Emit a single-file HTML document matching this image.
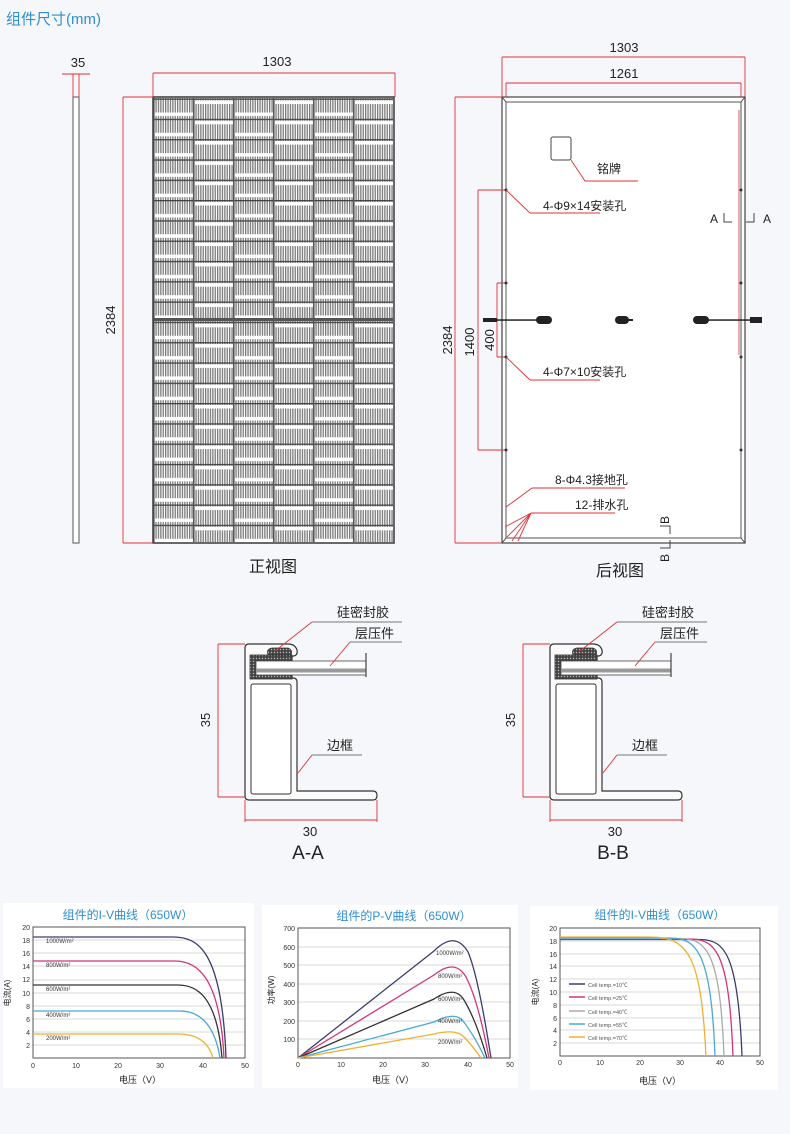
<!DOCTYPE html>
<html><head><meta charset="utf-8"><style>
html,body{margin:0;padding:0;background:#f5f7fa;}
svg{display:block;font-family:"Liberation Sans","Noto Sans CJK SC",sans-serif;}
</style></head><body>
<svg width="790" height="1134" viewBox="0 0 790 1134" xmlns="http://www.w3.org/2000/svg">
<defs>
<pattern id="st" width="2.4" height="20" patternUnits="userSpaceOnUse"><rect width="2.4" height="20" fill="#fff"/><rect width="1.3" height="20" fill="#7a7a7a"/></pattern>
<pattern id="cA" x="153" y="98.5" width="40" height="20.3" patternUnits="userSpaceOnUse">
<rect width="40" height="20.3" fill="url(#st)"/><rect x="0" y="14" width="40" height="3.5" fill="#fff"/>
<rect x="0" y="0" width="40" height="1.3" fill="#444"/><rect x="0" y="0" width="1.6" height="20.3" fill="#555"/></pattern>
<pattern id="cB" x="153" y="98.5" width="40" height="20.3" patternUnits="userSpaceOnUse">
<rect width="40" height="20.3" fill="url(#st)"/><rect x="0" y="2" width="40" height="3.5" fill="#fff"/>
<rect x="0" y="0" width="40" height="1.3" fill="#444"/><rect x="0" y="0" width="1.6" height="20.3" fill="#555"/></pattern>
<pattern id="hatch" width="3" height="3" patternUnits="userSpaceOnUse"><rect width="3" height="3" fill="#444"/><circle cx="1.5" cy="1.5" r="0.7" fill="#bbb"/></pattern>
<g id="prof">
<path d="M249,800 L373,800 Q377,800 377,795.5 Q377,791 373,791 L297,791 L297,682 Q297,678 293,678 L292,678 L292,656 L294,656 Q298,655 297,650 Q295,644 288,644 L249,644 Q245,644 245,648 L245,796 Q245,800 249,800 Z" fill="#fafafa" stroke="#333" stroke-width="1.2"/>
<rect x="251" y="684" width="40" height="110" rx="2" fill="#fff" stroke="#333" stroke-width="1"/>
<rect x="250" y="655" width="42" height="24" fill="url(#hatch)" stroke="#333" stroke-width="0.8"/>
<path d="M268,655 Q266,649 272,648 L288,648 Q293,650 291,655 Z" fill="url(#hatch)" stroke="#333" stroke-width="0.8"/>
<rect x="256" y="661" width="110" height="14" fill="#fff" stroke="#444" stroke-width="0.8"/>
<rect x="256" y="668.5" width="110" height="4" fill="#999"/>
<line x1="366" y1="653" x2="366" y2="677" stroke="#444" stroke-width="1.2"/>
<path d="M218,644 L245,644 M218,797 L245,797 M218,644 L218,797 M245,800 L245,822 M377,800 L377,822 M245,820 L377,820" stroke="#e0303a" stroke-width="0.9" fill="none"/>
<path d="M275,651 L312,622" stroke="#e0303a" stroke-width="0.9"/>
<path d="M312,622 L402,622 M350,642 L402,642 M312,755 L362,755" stroke="#777" stroke-width="0.9"/>
<path d="M330,666 L350,642 M298,773 L312,755" stroke="#e0303a" stroke-width="0.9"/>
<text x="337" y="617" font-size="13" fill="#222">硅密封胶</text>
<text x="355" y="638" font-size="13" fill="#222">层压件</text>
<text x="327" y="750" font-size="13" fill="#222">边框</text>
<text transform="translate(210,720) rotate(-90)" text-anchor="middle" font-size="13" fill="#222">35</text>
<text x="310" y="836" text-anchor="middle" font-size="13" fill="#222">30</text>
</g>
</defs>

<text x="6" y="24" font-size="15" fill="#2f8fd0">组件尺寸(mm)</text>

<!-- side view -->
<rect x="73" y="97" width="6" height="446" fill="#fff" stroke="#555" stroke-width="1"/>
<path d="M62,74 L90,74 M73,74 L73,97 M79,74 L79,97" stroke="#e0303a" stroke-width="0.9"/>
<text x="78" y="67" text-anchor="middle" font-size="13" fill="#222">35</text>

<!-- front view -->
<rect x="153" y="98" width="40" height="444" fill="url(#cA)"/>
<rect x="193" y="98" width="40" height="444" fill="url(#cB)"/>
<rect x="233" y="98" width="40" height="444" fill="url(#cA)"/>
<rect x="273" y="98" width="40" height="444" fill="url(#cB)"/>
<rect x="313" y="98" width="40" height="444" fill="url(#cA)"/>
<rect x="353" y="98" width="40" height="444" fill="url(#cB)"/>
<rect x="153" y="318" width="240" height="3" fill="#555"/>
<rect x="153" y="97" width="241" height="446" fill="none" stroke="#444" stroke-width="1.6"/>
<path d="M153,73 L395,73 M153,73 L153,97 M395,73 L395,97 M123,97 L153,97 M123,543 L153,543 M123,97 L123,543" stroke="#e0303a" stroke-width="0.9"/>
<text x="277" y="66" text-anchor="middle" font-size="13" fill="#222">1303</text>
<text transform="translate(115,320) rotate(-90)" text-anchor="middle" font-size="13" fill="#222">2384</text>
<text x="273" y="572" text-anchor="middle" font-size="16" fill="#222">正视图</text>

<!-- back view -->
<rect x="502" y="97" width="243" height="446" fill="#fff" stroke="#444" stroke-width="1.2"/>
<rect x="506" y="102" width="235" height="436" fill="none" stroke="#555" stroke-width="1"/>
<path d="M502,97 L506,102 M745,97 L741,102 M502,543 L506,538 M745,543 L741,538" stroke="#444" stroke-width="1"/>
<rect x="551" y="137" width="20" height="23" rx="2" fill="#fff" stroke="#444" stroke-width="1"/>
<path d="M502,57 L745,57 M502,57 L502,97 M745,57 L745,97 M506,83 L741,83 M506,83 L506,97 M741,83 L741,97 M455,97 L502,97 M455,543 L502,543 M455,97 L455,543 M478,190 L506,190 M478,450 L506,450 M478,190 L478,450 M497,283 L506,283 M497,357 L506,357 M497,283 L497,357" stroke="#e0303a" stroke-width="0.9"/>
<path d="M739,110 L739,355" stroke="#e0303a" stroke-width="0.8"/>
<text x="624" y="52" text-anchor="middle" font-size="13" fill="#222">1303</text>
<text x="624" y="78" text-anchor="middle" font-size="13" fill="#222">1261</text>
<text transform="translate(452,340) rotate(-90)" text-anchor="middle" font-size="13" fill="#222">2384</text>
<text transform="translate(474,342) rotate(-90)" text-anchor="middle" font-size="13" fill="#222">1400</text>
<text transform="translate(494,340) rotate(-90)" text-anchor="middle" font-size="13" fill="#222">400</text>
<!-- connectors -->
<g fill="#222">
<rect x="483" y="318" width="14" height="4"/><rect x="497" y="319.3" width="40" height="1.5"/><rect x="536" y="316" width="16" height="8" rx="4"/>
<rect x="615" y="316" width="14" height="8" rx="4"/><rect x="628" y="319" width="5" height="2"/>
<rect x="693" y="316" width="16" height="8" rx="4"/><rect x="708" y="319.3" width="44" height="1.5"/><rect x="750" y="317" width="12" height="6"/>
</g>
<g fill="#333"><circle cx="506" cy="190" r="1.5"/><circle cx="506" cy="283" r="1.5"/><circle cx="506" cy="357" r="1.5"/><circle cx="506" cy="450" r="1.5"/><circle cx="741" cy="190" r="1.5"/><circle cx="741" cy="283" r="1.5"/><circle cx="741" cy="357" r="1.5"/><circle cx="741" cy="450" r="1.5"/></g>
<path d="M571,160 L585,181 L638,181 M506,190 L530,213 M506,357 L530,380 M506,507 L532,488 M505,527 L531,513 M507,537 L531,513 M512,541 L531,513 M518,541 L531,513" stroke="#e0303a" stroke-width="0.9" fill="none"/>
<path d="M530,213 L600,213 M530,380 L600,380 M532,488 L625,488 M531,513 L615,513" stroke="#e0303a" stroke-width="0.9"/>
<text x="597" y="173" font-size="12" fill="#222">铭牌</text>
<text x="543" y="210" font-size="12" fill="#222">4-Φ9×14安装孔</text>
<text x="543" y="376" font-size="12" fill="#222">4-Φ7×10安装孔</text>
<text x="555" y="484" font-size="12" fill="#222">8-Φ4.3接地孔</text>
<text x="575" y="509" font-size="12" fill="#222">12-排水孔</text>
<text x="710" y="223" font-size="12" fill="#222">A</text>
<path d="M724,213 L724,222 L732,222 M754,213 L754,222 L746,222" stroke="#444" stroke-width="1" fill="none"/>
<text x="763" y="223" font-size="12" fill="#222">A</text>
<text transform="translate(669,520) rotate(-90)" text-anchor="middle" font-size="12" fill="#222">B</text>
<path d="M660,526 L670,526 L670,534 M660,548 L670,548 L670,540" stroke="#444" stroke-width="1" fill="none"/>
<text transform="translate(669,558) rotate(-90)" text-anchor="middle" font-size="12" fill="#222">B</text>
<text x="620" y="576" text-anchor="middle" font-size="16" fill="#222">后视图</text>

<!-- sections -->
<use href="#prof"/>
<text x="308" y="859" text-anchor="middle" font-size="19" fill="#222">A-A</text>
<use href="#prof" transform="translate(305,0)"/>
<text x="613" y="859" text-anchor="middle" font-size="19" fill="#222">B-B</text>

<!-- chart 1 -->
<rect x="3" y="903" width="251" height="185" fill="#fff"/>
<text x="128" y="919" text-anchor="middle" font-size="12" fill="#2f8fd0">组件的I-V曲线（650W）</text>
<g stroke="#ccc" stroke-width="0.7">
<line x1="33" x2="245" y1="1045" y2="1045"/><line x1="33" x2="245" y1="1032" y2="1032"/><line x1="33" x2="245" y1="1019" y2="1019"/><line x1="33" x2="245" y1="1006" y2="1006"/><line x1="33" x2="245" y1="993" y2="993"/><line x1="33" x2="245" y1="980" y2="980"/><line x1="33" x2="245" y1="966" y2="966"/><line x1="33" x2="245" y1="953" y2="953"/><line x1="33" x2="245" y1="940" y2="940"/></g>
<rect x="33" y="927" width="212" height="131" fill="none" stroke="#555" stroke-width="1"/>
<g fill="none" stroke-width="1.3">
<path d="M33,937 L173,937 C198,937 222,950 226,1058" stroke="#3a3d6e"/>
<path d="M33,961 L175,961 C196,961 220,975 224,1058" stroke="#d0357a"/>
<path d="M33,985 L178,985 C196,985 217,995 222,1058" stroke="#333"/>
<path d="M33,1011 L180,1011 C196,1011 214,1020 220,1058" stroke="#4aa8d8"/>
<path d="M33,1034 L178,1034 C194,1034 208,1040 213,1058" stroke="#f0b030"/></g>
<g font-size="6" fill="#333"><text x="46" y="943">1000W/m²</text><text x="46" y="967">800W/m²</text><text x="46" y="991">600W/m²</text><text x="46" y="1017">400W/m²</text><text x="46" y="1040">200W/m²</text></g>
<g font-size="7" fill="#333" text-anchor="end"><text x="30" y="930">20</text><text x="30" y="943">18</text><text x="30" y="956">16</text><text x="30" y="969">14</text><text x="30" y="982">12</text><text x="30" y="996">10</text><text x="30" y="1009">8</text><text x="30" y="1022">6</text><text x="30" y="1035">4</text><text x="30" y="1048">2</text></g>
<g font-size="7" fill="#333" text-anchor="middle"><text x="33" y="1068">0</text><text x="76" y="1068">10</text><text x="118" y="1068">20</text><text x="160" y="1068">30</text><text x="203" y="1068">40</text><text x="245" y="1068">50</text></g>
<text x="140" y="1083" text-anchor="middle" font-size="9" fill="#222">电压（V）</text>
<text transform="translate(10,993) rotate(-90)" text-anchor="middle" font-size="8" fill="#222">电流(A)</text>

<!-- chart 2 -->
<rect x="262" y="905" width="256" height="183" fill="#fff"/>
<text x="404" y="920" text-anchor="middle" font-size="12" fill="#2f8fd0">组件的P-V曲线（650W）</text>
<g stroke="#ccc" stroke-width="0.7">
<line x1="298" x2="510" y1="1039" y2="1039"/><line x1="298" x2="510" y1="1021" y2="1021"/><line x1="298" x2="510" y1="1002" y2="1002"/><line x1="298" x2="510" y1="984" y2="984"/><line x1="298" x2="510" y1="965" y2="965"/><line x1="298" x2="510" y1="947" y2="947"/></g>
<rect x="298" y="928" width="212" height="130" fill="none" stroke="#555" stroke-width="1"/>
<g fill="none" stroke-width="1.3">
<path d="M298,1058 L434,951 Q455,930 468,952 Q478,975 491,1058" stroke="#3a3d6e"/>
<path d="M298,1058 L434,975 Q455,958 466,977 Q478,1000 489,1058" stroke="#d0357a"/>
<path d="M298,1058 L434,999 Q455,985 464,1000 Q476,1020 487,1058" stroke="#333"/>
<path d="M298,1058 L434,1022 Q455,1011 463,1021 Q474,1035 485,1058" stroke="#4aa8d8"/>
<path d="M298,1058 L434,1034 Q455,1029 463,1036 Q472,1045 481,1058" stroke="#f0b030"/></g>
<g font-size="6" fill="#333"><text x="436" y="955">1000W/m²</text><text x="438" y="978">800W/m²</text><text x="438" y="1001">600W/m²</text><text x="438" y="1023">400W/m²</text><text x="438" y="1044">200W/m²</text></g>
<g font-size="7" fill="#333" text-anchor="end"><text x="295" y="931">700</text><text x="295" y="950">600</text><text x="295" y="968">500</text><text x="295" y="987">400</text><text x="295" y="1005">300</text><text x="295" y="1024">200</text><text x="295" y="1042">100</text></g>
<g font-size="7" fill="#333" text-anchor="middle"><text x="298" y="1067">0</text><text x="341" y="1067">10</text><text x="383" y="1067">20</text><text x="425" y="1067">30</text><text x="468" y="1067">40</text><text x="510" y="1067">50</text></g>
<text x="393" y="1083" text-anchor="middle" font-size="9" fill="#222">电压（V）</text>
<text transform="translate(274,990) rotate(-90)" text-anchor="middle" font-size="8" fill="#222">功率(W)</text>

<!-- chart 3 -->
<rect x="530" y="906" width="248" height="184" fill="#fff"/>
<text x="660" y="919" text-anchor="middle" font-size="12" fill="#2f8fd0">组件的I-V曲线（650W）</text>
<g stroke="#ccc" stroke-width="0.7">
<line x1="560" x2="760" y1="1043" y2="1043"/><line x1="560" x2="760" y1="1030" y2="1030"/><line x1="560" x2="760" y1="1018" y2="1018"/><line x1="560" x2="760" y1="1005" y2="1005"/><line x1="560" x2="760" y1="992" y2="992"/><line x1="560" x2="760" y1="979" y2="979"/><line x1="560" x2="760" y1="966" y2="966"/><line x1="560" x2="760" y1="954" y2="954"/><line x1="560" x2="760" y1="941" y2="941"/></g>
<rect x="560" y="928" width="200" height="128" fill="none" stroke="#555" stroke-width="1"/>
<g fill="none" stroke-width="1.3">
<path d="M560,939.5 L700,939.5 C725,939.5 738,955 742,1056" stroke="#3a3d6e"/>
<path d="M560,939 L690,939 C717,939 729,955 733,1056" stroke="#d0357a"/>
<path d="M560,938.5 L680,938.5 C708,938.5 720,955 724,1056" stroke="#aaa"/>
<path d="M560,938 L670,938 C698,938 711,955 715,1056" stroke="#4aa8d8"/>
<path d="M560,937 L650,937 C688,937 701,955 706,1056" stroke="#f0b030"/></g>
<g stroke-width="1.5"><line x1="569" x2="585" y1="984" y2="984" stroke="#3a3d6e"/><line x1="569" x2="585" y1="997" y2="997" stroke="#d0357a"/><line x1="569" x2="585" y1="1011" y2="1011" stroke="#aaa"/><line x1="569" x2="585" y1="1024" y2="1024" stroke="#4aa8d8"/><line x1="569" x2="585" y1="1037" y2="1037" stroke="#f0b030"/></g>
<g font-size="5.5" fill="#555"><text x="588" y="987">Cell temp.=10℃</text><text x="588" y="1000">Cell temp.=25℃</text><text x="588" y="1014">Cell temp.=40℃</text><text x="588" y="1027">Cell temp.=55℃</text><text x="588" y="1040">Cell temp.=70℃</text></g>
<g font-size="7" fill="#333" text-anchor="end"><text x="557" y="931">20</text><text x="557" y="944">18</text><text x="557" y="957">16</text><text x="557" y="969">14</text><text x="557" y="982">12</text><text x="557" y="995">10</text><text x="557" y="1008">8</text><text x="557" y="1021">6</text><text x="557" y="1033">4</text><text x="557" y="1046">2</text></g>
<g font-size="7" fill="#333" text-anchor="middle"><text x="560" y="1065">0</text><text x="600" y="1065">10</text><text x="640" y="1065">20</text><text x="680" y="1065">30</text><text x="720" y="1065">40</text><text x="760" y="1065">50</text></g>
<text x="660" y="1084" text-anchor="middle" font-size="9" fill="#222">电压（V）</text>
<text transform="translate(538,992) rotate(-90)" text-anchor="middle" font-size="8" fill="#222">电流(A)</text>
</svg>
</body></html>
